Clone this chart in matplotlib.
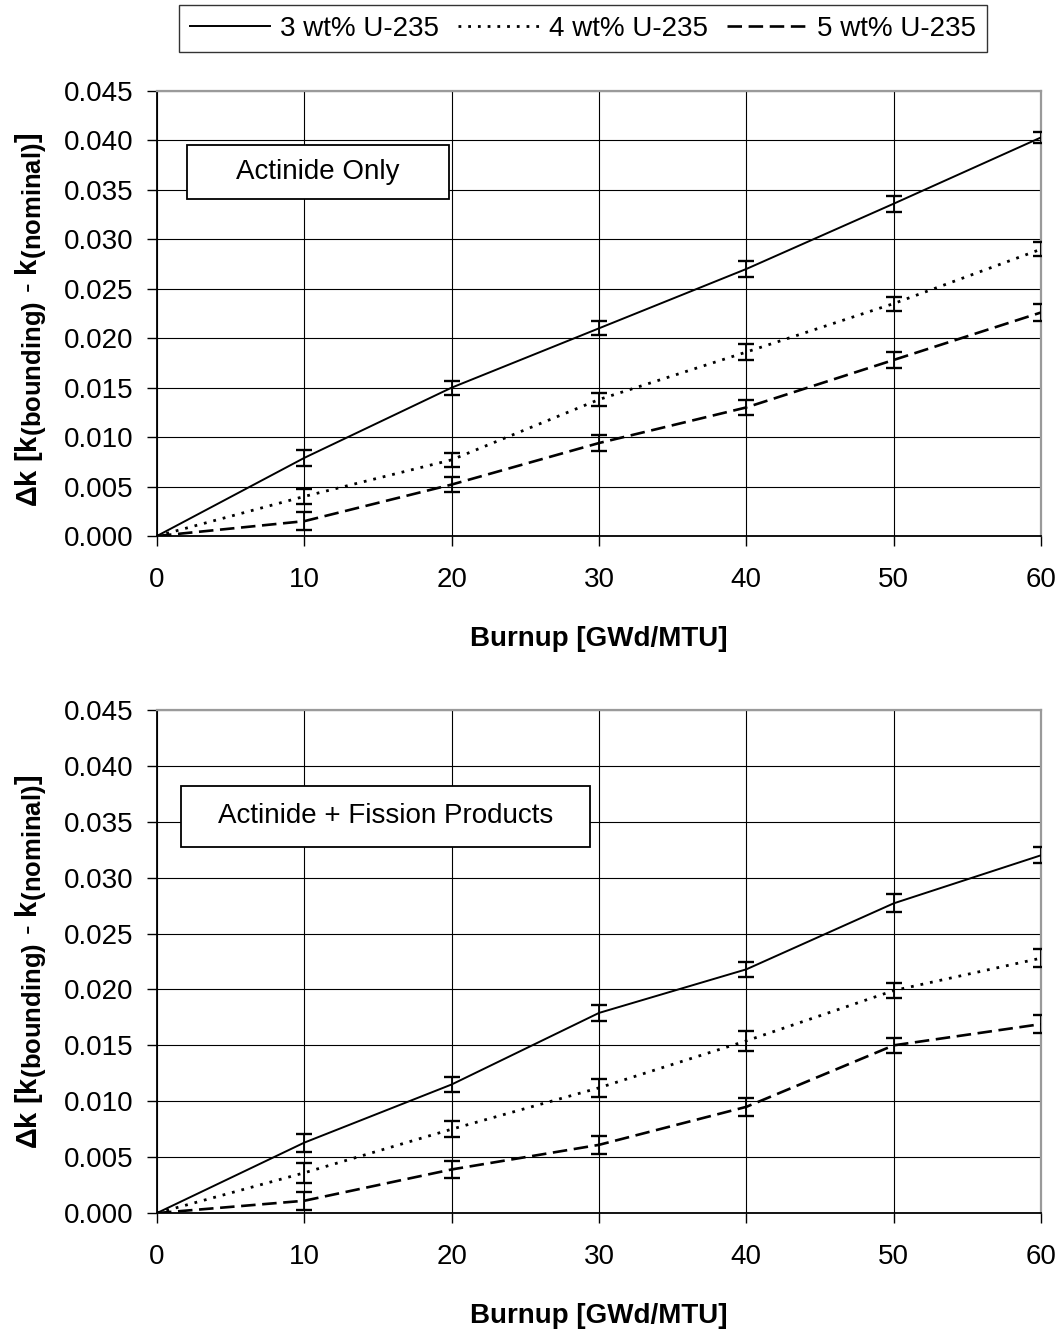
import matplotlib
matplotlib.use("Agg")
import matplotlib.pyplot as plt
from matplotlib.lines import Line2D
from matplotlib.patches import Rectangle
try:
    import matplotlib._mathtext as _mt
    _mt.SHRINK_FACTOR = 0.88
except Exception:
    pass

plt.rcParams['font.family'] = ['Liberation Sans', 'DejaVu Sans']
plt.rcParams['mathtext.fontset'] = 'custom'
plt.rcParams['mathtext.rm'] = 'Liberation Sans'
plt.rcParams['mathtext.bf'] = 'Liberation Sans:bold'
plt.rcParams['mathtext.it'] = 'Liberation Sans:italic'

burnup = [0, 10, 20, 30, 40, 50, 60]
series_labels = ["3 wt% U-235", "4 wt% U-235", "5 wt% U-235"]

# Actinide only
act_3 = [0.0, 0.0079, 0.0150, 0.0210, 0.0270, 0.0336, 0.0403]
act_3_err = [0.0, 0.0008, 0.0007, 0.0007, 0.0008, 0.0008, 0.0006]
act_4 = [0.0, 0.0040, 0.0077, 0.0138, 0.0186, 0.0235, 0.0290]
act_4_err = [0.0, 0.0008, 0.0007, 0.0007, 0.0008, 0.0007, 0.0007]
act_5 = [0.0, 0.0015, 0.0052, 0.0094, 0.0130, 0.0178, 0.0226]
act_5_err = [0.0, 0.0009, 0.0008, 0.0008, 0.0008, 0.0008, 0.0009]

# Actinide + fission products
afp_3 = [0.0, 0.0063, 0.0115, 0.0179, 0.0218, 0.0277, 0.0320]
afp_3_err = [0.0, 0.0008, 0.0007, 0.0007, 0.0007, 0.0008, 0.0007]
afp_4 = [0.0, 0.0036, 0.0075, 0.0112, 0.0154, 0.0199, 0.0228]
afp_4_err = [0.0, 0.0009, 0.0007, 0.0008, 0.0009, 0.0007, 0.0008]
afp_5 = [0.0, 0.0011, 0.0039, 0.0061, 0.0095, 0.0150, 0.0169]
afp_5_err = [0.0, 0.0008, 0.0008, 0.0008, 0.0008, 0.0007, 0.0008]

yticks = [0.000, 0.005, 0.010, 0.015, 0.020, 0.025, 0.030, 0.035, 0.040, 0.045]
xticks = [0, 10, 20, 30, 40, 50, 60]

styles = [
    dict(linestyle='-', linewidth=1.4),
    dict(linestyle=(0, (1, 2.5)), linewidth=2.0),
    dict(linestyle=(0, (5.5, 2.5)), linewidth=1.9),
]

FS = 20
fig = plt.figure(figsize=(10.62, 13.32), dpi=100)
ax1 = fig.add_axes([0.1478, 0.5976, 0.8324, 0.3341])
ax2 = fig.add_axes([0.1478, 0.0893, 0.8324, 0.3777])

panels = [
    (ax1, [(act_3, act_3_err), (act_4, act_4_err), (act_5, act_5_err)],
     "Actinide Only", (0.034, 0.757, 0.296, 0.122), 0.485),
    (ax2, [(afp_3, afp_3_err), (afp_4, afp_4_err), (afp_5, afp_5_err)],
     "Actinide + Fission Products", (0.027, 0.728, 0.463, 0.121), 0.50),
]

for ax, data, label, box, ylab_y in panels:
    for (vals, errs), st in zip(data, styles):
        ax.plot(burnup, vals, color='black', **st, zorder=3)
        ax.errorbar(burnup[1:], vals[1:], yerr=errs[1:], fmt='none',
                    ecolor='black', elinewidth=1.3, capsize=5.5,
                    capthick=1.7, zorder=4)
    ax.set_xlim(0, 60)
    ax.set_ylim(0, 0.045)
    ax.set_xticks(xticks)
    ax.set_yticks(yticks)
    ax.set_yticklabels([f"{v:.3f}" for v in yticks])
    ax.grid(True, color='black', linewidth=0.8, zorder=0)
    ax.set_axisbelow(True)
    ax.tick_params(axis='both', direction='out', length=7, width=1,
                   labelsize=FS, colors='black')
    ax.tick_params(axis='x', pad=15)
    ax.tick_params(axis='y', pad=10)
    for s in ['left', 'bottom']:
        ax.spines[s].set_color('black')
        ax.spines[s].set_linewidth(1.3)
    for s in ['top', 'right']:
        ax.spines[s].set_color('#9a9a9a')
        ax.spines[s].set_linewidth(1.6)
    ax.set_xlabel("Burnup [GWd/MTU]", fontsize=FS, fontweight='bold', labelpad=24)
    ax.set_ylabel(r"$\mathbf{\Delta k\ [k_{(bounding)}\ \text{-}\ k_{(nominal)}]}$",
                  fontsize=21)
    ax.yaxis.set_label_coords(-0.122, ylab_y)
    bx, by, bw, bh = box
    ax.add_patch(Rectangle((bx, by), bw, bh, transform=ax.transAxes,
                           facecolor='white', edgecolor='black',
                           linewidth=1.3, zorder=5))
    ax.text(bx + bw / 2, by + bh / 2, label, transform=ax.transAxes,
            fontsize=FS, ha='center', va='center', zorder=6)

handles = [Line2D([0], [0], color='black', **st) for st in styles]
leg = fig.legend(handles, series_labels, loc='upper center',
                 bbox_to_anchor=(0.549, 0.996), ncol=3, fontsize=FS,
                 frameon=True, fancybox=False, edgecolor='black',
                 handlelength=2.9, handletextpad=0.35, columnspacing=0.7,
                 borderpad=0.38, borderaxespad=0.0)
leg.get_frame().set_linewidth(1.0)

fig.savefig("out.png", dpi=100, facecolor='white')
